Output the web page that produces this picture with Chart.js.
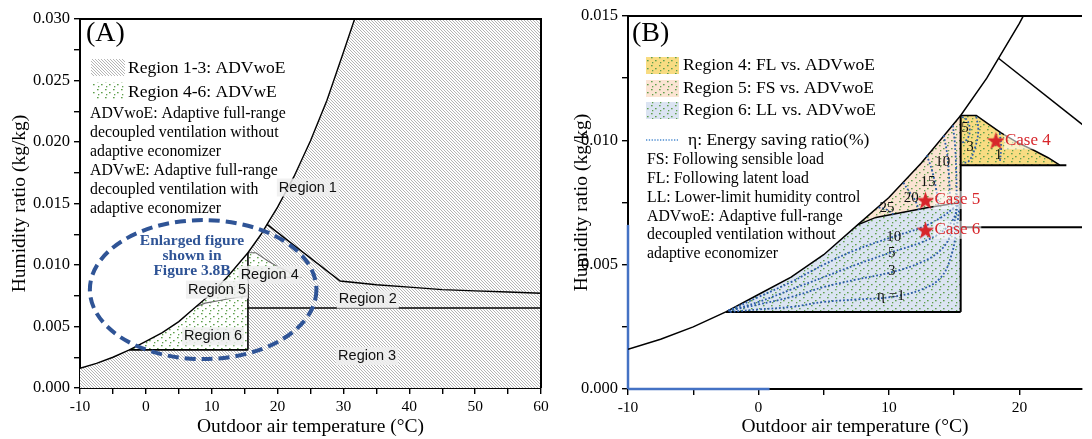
<!DOCTYPE html>
<html>
<head>
<meta charset="utf-8">
<script src="https://cdn.jsdelivr.net/npm/chart.js@4.4.1/dist/chart.umd.min.js"></script>
<style>
  html,body{margin:0;padding:0;background:#fff;overflow:hidden;}
  #wrapA{position:absolute;left:0;top:0;width:562px;height:439px;}
  #wrapB{position:absolute;left:562px;top:0;width:530px;height:439px;}
</style>
</head>
<body>
<div id="wrapA"><canvas id="chartA"></canvas></div>
<div id="wrapB"><canvas id="chartB"></canvas></div>
<script>
/* ============================================================
   Psychrometric operating regions — panel (A) overview, panel (B) zoom
   ============================================================ */

Chart.defaults.font.family = "'Liberation Serif','Times New Roman',serif";
Chart.defaults.color = "#000";
Chart.defaults.animation = false;

const SERIF = "'Liberation Serif','Times New Roman',serif";
const SANS  = "'Liberation Sans',Arial,sans-serif";
const COLORS = {
  ink:    "#000",
  soft:   "#6a6a6a",
  ring:   "#2f5496",
  eta:    "#2b5ca8",
  red:    "#d7262b",
  axBlue: "#4472c4",
  yellow: "#f8dc82",
  peach:  "#fbe4d3",
  sky:    "#dbe4f2"
};

/* ---------------- data (°C , kg/kg) ---------------- */
// saturation curve
const satT = [-10, -7.5, -5, -2.5, 0, 2.5, 5, 7.6, 10, 12.5, 15.5, 17.5, 18.4, 20, 22.5, 25, 27.5, 30, 31.7];
const satW = [0.0016, 0.0020, 0.0025, 0.0031, 0.0038, 0.0045, 0.0054, 0.0066, 0.0077, 0.0091, 0.0110, 0.0125, 0.0133, 0.0147, 0.0172, 0.0201, 0.0234, 0.0273, 0.0300];

// region 1 / region 2 boundary
const r1T = [18.4, 29.5, 35, 40, 45, 50, 55, 60];
const r1W = [0.0133, 0.0087, 0.0084, 0.0082, 0.0080, 0.0079, 0.0078, 0.0077];

// region 2 / region 3 boundary
const r23T = [15.5, 60];
const r23W = [0.0065, 0.0065];

// region 5 / region 6 boundary
const r56T = [7.6, 9, 11, 13, 15.5];
const r56W = [0.0066, 0.0069, 0.0071, 0.0073, 0.0075];

// region 6 bottom + split line
const r6Left = -2.5, r6Bottom = 0.0031, splitT = 15.5, splitTop = 0.0110;

// region 4 upper edge, bottom
const r4T = [15.5, 16.7, 17.5, 18.6, 19.9, 21.1, 22.2, 23.1];
const r4W = [0.0110, 0.0110, 0.0107, 0.0103, 0.0099, 0.0096, 0.0093, 0.0090];
const r4Bottom = 0.0090, r4BottomEnd = 23.6;

// energy saving ratio contours (panel B)
const etaR6_1  = [[-2.2,0.0031],[0,0.0032],[2.5,0.0033],[5,0.0035],[7.5,0.0036],[10.2,0.0037],[12.5,0.0040],[14,0.0045],[14.8,0.0054],[15.2,0.0065],[15.4,0.0073]];
const etaR6_3  = [[-2.3,0.00315],[0,0.0034],[2.5,0.0037],[5,0.0041],[7.5,0.0044],[10.2,0.0047],[12.5,0.0051],[14,0.0056],[14.8,0.0063],[15.2,0.0072]];
const etaR6_5  = [[-2.3,0.00315],[0,0.0035],[2.5,0.0040],[5,0.0045],[7.5,0.0050],[10.2,0.0055],[12.5,0.0059],[14,0.0063],[14.9,0.0068],[15.3,0.0074]];
const etaR6_10 = [[-2.3,0.00315],[0,0.0037],[2.5,0.0043],[5,0.0050],[7.5,0.0056],[10.2,0.0061],[12.5,0.0065],[14,0.0069],[15,0.0073],[15.4,0.0075]];
const etaR5_25 = [[9.2,0.0073],[9.8,0.00722],[10.4,0.0070]];
const etaR5_20 = [[11.1,0.0083],[11.6,0.0079],[12.0,0.0076],[12.3,0.0072]];
const etaR5_15 = [[12.9,0.0094],[13.3,0.0088],[13.6,0.0081],[13.8,0.0074]];
const etaR5_10 = [[14.2,0.0102],[14.45,0.0095],[14.6,0.0086],[14.7,0.0074]];
const etaR5_5  = [[14.9,0.0106],[15.05,0.0099],[15.15,0.0089],[15.2,0.0075]];
const etaR4_5  = [[15.6,0.01095],[16.0,0.0108],[16.2,0.0104],[16.0,0.01005],[15.6,0.0099]];
const etaR4_3  = [[16.7,0.01095],[16.85,0.0104],[16.6,0.0097],[16.1,0.00915],[15.6,0.0091]];
const etaR4_1  = [[18.5,0.0103],[18.6,0.0097],[18.5,0.0091]];

// case points
const caseNames = ["Case 4", "Case 5", "Case 6"];
const caseT = [18.2, 12.8, 12.8];
const caseW = [0.0100, 0.0076, 0.0064];

/* ---------------- helpers ---------------- */
const pts   = (xs, ys) => xs.map((x, i) => ({ x, y: ys[i] }));
const pairs = arr => arr.map(([x, y]) => ({ x, y }));

const satPts = pts(satT, satW);
const satBetween = (a, b) => satPts.filter(p => p.x >= a && p.x <= b);
const r56Pts = pts(r56T, r56W);
const r4Pts  = pts(r4T, r4W);

const polyUnder = [...satPts, {x:60, y:0.030}, {x:60, y:0}, {x:-10, y:0}];
const polyR6 = [...satBetween(r6Left, 7.6), ...r56Pts.slice(1), {x:splitT, y:r6Bottom}, {x:r6Left, y:r6Bottom}];
const polyR5 = [...satBetween(7.6, splitT), ...r56Pts.slice().reverse()];
const polyR4 = [...r4Pts, {x:r4T[0], y:r4Bottom}];

function makeHatch(){
  const c = document.createElement('canvas'); c.width = 3; c.height = 3;
  const g = c.getContext('2d');
  g.fillStyle = '#fff'; g.fillRect(0,0,3,3);
  g.strokeStyle = '#9c9c9c'; g.lineWidth = 0.75;
  g.beginPath();
  g.moveTo(0,0); g.lineTo(3,3);
  g.moveTo(-1,2); g.lineTo(1,4);
  g.moveTo(2,-1); g.lineTo(4,1);
  g.stroke();
  return g.createPattern(c, 'repeat');
}
function makeDots(bg){
  const c = document.createElement('canvas'); c.width = 8; c.height = 8;
  const g = c.getContext('2d');
  g.fillStyle = bg; g.fillRect(0,0,8,8);
  g.fillStyle = '#5f9f4c';
  g.fillRect(1,1,1.6,1.3); g.fillRect(5,4,1.6,1.3); g.fillRect(2,6,1.3,1.3);
  return g.createPattern(c, 'repeat');
}
function makeStar(size, color){
  const c = document.createElement('canvas'); c.width = size; c.height = size;
  const g = c.getContext('2d');
  g.fillStyle = color; g.beginPath();
  for (let i = 0; i < 10; i++){
    const r = i % 2 ? size*0.2 : size*0.5;
    const a = -Math.PI/2 + i*Math.PI/5;
    g.lineTo(size/2 + r*Math.cos(a), size/2 + 1 + r*Math.sin(a));
  }
  g.closePath(); g.fill();
  return c;
}

const HATCH = makeHatch();
const DOTS_W = makeDots('#fff');
const DOTS_Y = makeDots(COLORS.yellow);
const DOTS_P = makeDots(COLORS.peach);
const DOTS_B = makeDots(COLORS.sky);
const STAR = makeStar(19, COLORS.red);

function lineDs(data, color, width, extra){
  return Object.assign({ type:'line', data, borderColor:color, borderWidth:width, pointRadius:0, fill:false, tension:0, order:2 }, extra || {});
}
function polyDs(data, bg, order){
  return { type:'line', data, borderWidth:0, borderColor:'rgba(0,0,0,0)', backgroundColor:bg, pointRadius:0, fill:'shape', tension:0, order };
}
function etaDs(arr){
  return lineDs(pairs(arr), COLORS.eta, 1.8, { borderDash:[1.8,2], tension:0.4, order:1 });
}

/* shared axis builder */
function xAxis(min, max, h){
  return {
    type:'linear', min, max,
    ticks:{ stepSize:5, autoSkip:false, includeBounds:false, maxRotation:0, padding:4, color:'#000',
            font:{ size:15.5 }, callback: v => Math.round(v) % 10 === 0 ? String(v) : '' },
    grid:{ drawOnChartArea:false, drawTicks:true, tickLength:6, color:'#000', lineWidth:1.4 },
    border:{ display:true, color:'#000', width:2 },
    title:{ display:true, text:'Outdoor air temperature (°C)', font:{ size:19.5 }, color:'#000', padding:{ top:0, bottom:0 } },
    afterFit: s => { s.height = h; }
  };
}
function yAxis(max, w){
  return {
    type:'linear', min:0, max,
    ticks:{ stepSize:0.0025, autoSkip:false, includeBounds:false, padding:4, color:'#000',
            font:{ size:16.5 }, callback: v => Math.round(v/0.0025) % 2 === 0 ? v.toFixed(3) : '' },
    grid:{ drawOnChartArea:false, drawTicks:true, tickLength:6, color:'#000', lineWidth:1.4 },
    border:{ display:true, color:'#000', width:2 },
    title:{ display:true, text:'Humidity ratio (kg/kg)', font:{ size:19.5 }, color:'#000', padding:{ top:8, bottom:0 } },
    afterFit: s => { s.width = w; }
  };
}

function boxText(ctx, text, cx, cy, font, color, bg){
  ctx.font = font;
  const w = ctx.measureText(text).width;
  if (bg){ ctx.fillStyle = bg; ctx.fillRect(cx - w/2 - 2, cy - 9, w + 4, 18); }
  ctx.fillStyle = color; ctx.textAlign = 'center'; ctx.textBaseline = 'middle';
  ctx.fillText(text, cx, cy);
}

/* ---------------- panel A ---------------- */
const regionLabelsA = [
  { t:'Region 1', x:24.6, y:0.0163 },
  { t:'Region 2', x:33.7, y:0.0072 },
  { t:'Region 3', x:33.6, y:0.0026 },
  { t:'Region 4', x:18.8, y:0.0092 },
  { t:'Region 5', x:10.8, y:0.0080 },
  { t:'Region 6', x:10.2, y:0.0042 }
];
const ringA = { cx:8.7, cy:0.0080, rx:17.2, ry:0.00565 };

const overlayA = {
  id:'overlayA',
  afterDatasetsDraw(chart){
    const { ctx, chartArea:a, scales:{ x, y } } = chart;
    ctx.save();
    ctx.strokeStyle = '#000'; ctx.lineWidth = 2;
    ctx.beginPath(); ctx.moveTo(a.left, a.top); ctx.lineTo(a.right, a.top); ctx.lineTo(a.right, a.bottom); ctx.stroke();

    regionLabelsA.forEach(r => boxText(ctx, r.t, x.getPixelForValue(r.x), y.getPixelForValue(r.y), `14.5px ${SANS}`, '#111', 'rgba(238,238,238,0.85)'));

    // dashed ring
    const cx = x.getPixelForValue(ringA.cx), cy = y.getPixelForValue(ringA.cy);
    ctx.strokeStyle = COLORS.ring; ctx.lineWidth = 4; ctx.setLineDash([11,6]);
    ctx.beginPath();
    ctx.ellipse(cx, cy, x.getPixelForValue(ringA.cx + ringA.rx) - cx, cy - y.getPixelForValue(ringA.cy + ringA.ry), 0, 0, Math.PI*2);
    ctx.stroke(); ctx.setLineDash([]);

    ctx.fillStyle = COLORS.ring; ctx.font = `bold 15.5px ${SERIF}`; ctx.textAlign = 'center'; ctx.textBaseline = 'middle';
    ['Enlarged figure', 'shown in', 'Figure 3.8B'].forEach((s, i) => ctx.fillText(s, 192, 241 + i*15));

    // panel tag + legend
    ctx.fillStyle = '#000'; ctx.textAlign = 'left';
    ctx.font = `28px ${SERIF}`; ctx.fillText('(A)', 86, 34);
    ctx.fillStyle = HATCH; ctx.fillRect(91, 59, 34, 17);
    ctx.fillStyle = DOTS_W; ctx.fillRect(92, 82, 32, 18);
    ctx.fillStyle = '#000'; ctx.font = `17.5px ${SERIF}`;
    ctx.fillText('Region 1-3: ADVwoE', 128, 68);
    ctx.fillText('Region 4-6: ADVwE', 128, 92);
    ctx.font = `15.8px ${SERIF}`;
    ['ADVwoE: Adaptive full-range', 'decoupled ventilation without', 'adaptive economizer',
     'ADVwE: Adaptive full-range', 'decoupled ventilation with', 'adaptive economizer']
      .forEach((s, i) => ctx.fillText(s, 90, 114 + i*19));
    ctx.restore();
  }
};

new Chart(document.getElementById('chartA'), {
  type:'line',
  data:{ datasets:[
    lineDs(satPts, COLORS.ink, 1.4),
    lineDs(pts(r1T, r1W), COLORS.ink, 1.4),
    lineDs(pts(r23T, r23W), COLORS.ink, 1.4),
    lineDs([{x:splitT, y:r6Bottom}, {x:splitT, y:splitTop}], COLORS.ink, 1.6),
    lineDs([{x:r6Left, y:r6Bottom}, {x:splitT, y:r6Bottom}], COLORS.ink, 1.6),
    lineDs(r56Pts, COLORS.soft, 1.1),
    lineDs([...r4Pts], COLORS.soft, 1.1),
    lineDs([{x:splitT, y:r4Bottom}, {x:r4BottomEnd, y:r4Bottom}], COLORS.soft, 1.1),
    polyDs(polyR4, DOTS_W, 5),
    polyDs(polyR5, DOTS_W, 5),
    polyDs(polyR6, DOTS_W, 5),
    polyDs(polyUnder, HATCH, 6)
  ]},
  options:{
    responsive:true, maintainAspectRatio:false, events:[],
    layout:{ padding:{ left:0, top:19, right:21, bottom:0 } },
    plugins:{ legend:{ display:false }, tooltip:{ enabled:false } },
    scales:{ x:xAxis(-10, 60, 51), y:yAxis(0.030, 80) }
  },
  plugins:[overlayA]
});

/* ---------------- panel B ---------------- */
const etaLabelsB = [
  { t:'5', x:15.84, y:0.01048 }, { t:'3', x:16.22, y:0.00972 }, { t:'1', x:18.39, y:0.0094 },
  { t:'10', x:14.12, y:0.00912 }, { t:'15', x:13.0, y:0.00831 }, { t:'20', x:11.72, y:0.00767 }, { t:'25', x:9.85, y:0.00727 },
  { t:'10', x:10.37, y:0.0061 }, { t:'5', x:10.22, y:0.00546 }, { t:'3', x:10.22, y:0.00474 }, { t:'η =1', x:10.15, y:0.00373 }
];

const overlayB = {
  id:'overlayB',
  afterDatasetsDraw(chart){
    const { ctx, chartArea:a, scales:{ x, y } } = chart;
    ctx.save();
    ctx.strokeStyle = '#000'; ctx.lineWidth = 2;
    ctx.beginPath(); ctx.moveTo(a.left, a.top); ctx.lineTo(a.right, a.top); ctx.stroke();

    etaLabelsB.forEach(l => boxText(ctx, l.t, x.getPixelForValue(l.x), y.getPixelForValue(l.y), `15px ${SERIF}`, '#111'));

    // case labels
    ctx.font = `17px ${SERIF}`; ctx.textAlign = 'left'; ctx.textBaseline = 'middle';
    caseNames.forEach((n, i) => {
      const px = x.getPixelForValue(caseT[i]) + 9, py = y.getPixelForValue(caseW[i]);
      const w = ctx.measureText(n).width;
      ctx.fillStyle = 'rgba(255,255,255,0.55)'; ctx.fillRect(px - 1, py - 9, w + 2, 18);
      ctx.fillStyle = COLORS.red; ctx.fillText(n, px, py);
    });

    // panel tag + legend
    ctx.fillStyle = '#000';
    ctx.font = `28px ${SERIF}`; ctx.fillText('(B)', 70, 34);
    [[DOTS_Y, 'Region 4: FL vs. ADVwoE', 65], [DOTS_P, 'Region 5: FS vs. ADVwoE', 88], [DOTS_B, 'Region 6: LL vs. ADVwoE', 110]]
      .forEach(([pat, s, cy]) => {
        ctx.fillStyle = pat; ctx.fillRect(84, cy - 8, 33, 17);
        ctx.fillStyle = '#000'; ctx.font = `17.5px ${SERIF}`; ctx.fillText(s, 121, cy);
      });
    ctx.strokeStyle = '#4a8ad0'; ctx.lineWidth = 1.3; ctx.setLineDash([1.3,1.5]);
    ctx.beginPath(); ctx.moveTo(84, 140); ctx.lineTo(116, 140); ctx.stroke(); ctx.setLineDash([]);
    ctx.fillText('η: Energy saving ratio(%)', 126, 140);
    ctx.font = `15.8px ${SERIF}`;
    ['FS: Following sensible load', 'FL: Following latent load', 'LL: Lower-limit humidity control',
     'ADVwoE: Adaptive full-range', 'decoupled ventilation without', 'adaptive economizer']
      .forEach((s, i) => ctx.fillText(s, 85, 160 + i*18.8));
    ctx.restore();
  }
};

new Chart(document.getElementById('chartB'), {
  type:'line',
  data:{ datasets:[
    { type:'line', data:pts(caseT, caseW), showLine:false, pointStyle:STAR, pointRadius:9, order:0 },
    etaDs(etaR6_1), etaDs(etaR6_3), etaDs(etaR6_5), etaDs(etaR6_10),
    etaDs(etaR5_25), etaDs(etaR5_20), etaDs(etaR5_15), etaDs(etaR5_10), etaDs(etaR5_5),
    etaDs(etaR4_5), etaDs(etaR4_3), etaDs(etaR4_1),
    lineDs(satPts, COLORS.ink, 1.5),
    lineDs(pts(r1T, r1W), COLORS.ink, 1.5),
    lineDs(pts(r23T, r23W), COLORS.ink, 2),
    lineDs([{x:splitT, y:r6Bottom}, {x:splitT, y:splitTop}], COLORS.ink, 2),
    lineDs([{x:r6Left, y:r6Bottom}, {x:splitT, y:r6Bottom}], COLORS.ink, 2),
    lineDs(r56Pts, COLORS.ink, 1.5),
    lineDs([...r4Pts], COLORS.ink, 1.5),
    lineDs([{x:splitT, y:r4Bottom}, {x:r4BottomEnd, y:r4Bottom}], COLORS.ink, 2),
    lineDs([{x:-10, y:0}, {x:-10, y:0.0066}], COLORS.axBlue, 2.5, { clip:false }),
    lineDs([{x:-10, y:0}, {x:0.85, y:0}], COLORS.axBlue, 2.5, { clip:false }),
    polyDs(polyR4, DOTS_Y, 5),
    polyDs(polyR5, DOTS_P, 5),
    polyDs(polyR6, DOTS_B, 5)
  ]},
  options:{
    responsive:true, maintainAspectRatio:false, events:[],
    layout:{ padding:{ left:0, top:16, right:0, bottom:0 } },
    plugins:{ legend:{ display:false }, tooltip:{ enabled:false } },
    scales:{ x:xAxis(-10, 24.8, 50), y:yAxis(0.015, 66) }
  },
  plugins:[overlayB]
});
</script>
</body>
</html>
